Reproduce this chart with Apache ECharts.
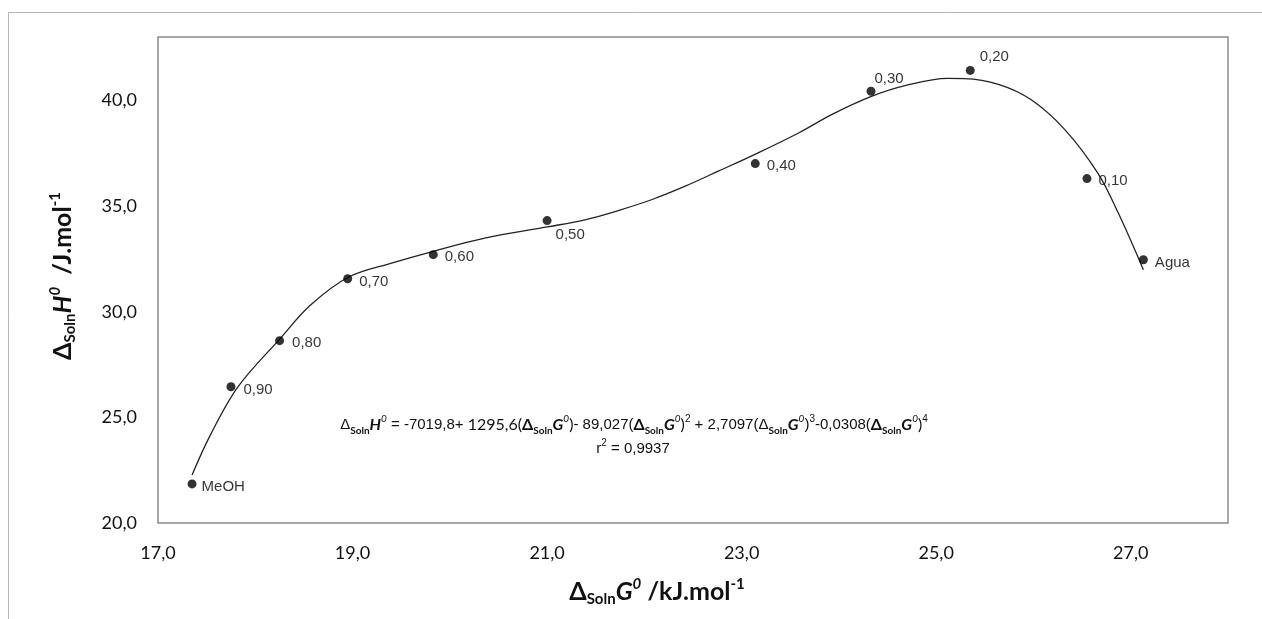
<!DOCTYPE html>
<html>
<head>
<meta charset="utf-8">
<script src="https://cdn.jsdelivr.net/npm/echarts@6/dist/echarts.min.js"></script>
<style>
  html, body { margin: 0; padding: 0; background: #fff; }
  #chart { width: 1262px; height: 619px; }
</style>
</head>
<body>
<div id="chart"></div>
<script>
// Measured mixtures: methanol mole fraction labels, ΔSolnG° (kJ/mol) and ΔSolnH° (J/mol)
const mixLabels = ['MeOH', '0,90', '0,80', '0,70', '0,60', '0,50', '0,40', '0,30', '0,20', '0,10', 'Agua'];
const deltaG = [17.35, 17.75, 18.25, 18.95, 19.83, 21.00, 23.14, 24.33, 25.35, 26.55, 27.13];
const deltaH = [21.85, 26.45, 28.63, 31.56, 32.70, 34.31, 37.01, 40.43, 41.42, 36.30, 32.46];

// Polynomial trend line, sampled along its drawn path
const trendG = [17.35, 17.53, 17.82, 18.26, 18.56, 18.96, 19.41, 19.83, 20.37, 21.00, 21.40, 21.74, 22.08, 22.42, 22.76, 23.17, 23.59, 23.93, 24.34, 24.68, 25.12, 25.29, 25.64, 25.97, 26.32, 26.66, 26.87, 27.13];
const trendH = [22.27, 24.09, 26.43, 28.75, 30.28, 31.64, 32.31, 32.86, 33.49, 34.01, 34.36, 34.80, 35.31, 35.94, 36.65, 37.52, 38.47, 39.34, 40.20, 40.70, 41.04, 41.03, 40.76, 40.05, 38.63, 36.57, 34.69, 31.99];

// Axis ranges and tick spacing
const xMin = 17, xMax = 28, xStep = 2;
const yMin = 20, yMax = 43, yStep = 5;

// Where each point's label sits relative to its marker
const labelOffsets = {
  'MeOH': [1, 3], '0,90': [4, 3], '0,80': [4, 2], '0,70': [3, 3], '0,60': [3, 2],
  '0,50': [0, 14], '0,40': [3, 2], '0,30': [-5, -12], '0,20': [1, -14], '0,10': [3, 2], 'Agua': [3, 3]
};

const comma = v => v.toFixed(1).replace('.', ',');

const points = deltaG.map((g, i) => ({
  value: [g, deltaH[i]],
  name: mixLabels[i],
  label: { offset: labelOffsets[mixLabels[i]] }
}));
const trend = trendG.map((g, i) => [g, trendH[i]]);

const titleFont = 'Lato, "Open Sans", sans-serif';
const axisTitleRich = {
  d: { fontFamily: titleFont, fontWeight: 'bold', fontSize: 25, lineHeight: 30, fill: '#111' },
  s: { fontFamily: titleFont, fontWeight: 'bold', fontSize: 15, lineHeight: 14, verticalAlign: 'bottom', fill: '#111' },
  i: { fontFamily: titleFont, fontWeight: 'bold', fontStyle: 'italic', fontSize: 25, lineHeight: 30, fill: '#111' },
  p: { fontFamily: titleFont, fontWeight: 'bold', fontStyle: 'italic', fontSize: 15, lineHeight: 16, verticalAlign: 'top', fill: '#111' },
  u: { fontFamily: titleFont, fontWeight: 'bold', fontSize: 15, lineHeight: 16, verticalAlign: 'top', fill: '#111' }
};

const eqFont = '"Liberation Sans", Arial, sans-serif';
const eqRich = {
  n: { fontFamily: eqFont, fontSize: 15, lineHeight: 22, fill: '#111' },
  c: { fontFamily: titleFont, fontSize: 16, lineHeight: 22, fill: '#111' },
  d: { fontFamily: eqFont, fontSize: 15, lineHeight: 22, fill: '#111' },
  db: { fontFamily: titleFont, fontWeight: 'bold', fontSize: 16, lineHeight: 22, fill: '#111' },
  s: { fontFamily: titleFont, fontWeight: 'bold', fontSize: 10, lineHeight: 9, verticalAlign: 'bottom', fill: '#111' },
  hi: { fontFamily: titleFont, fontWeight: 'bold', fontStyle: 'italic', fontSize: 16, lineHeight: 22, fill: '#111' },
  sp: { fontFamily: titleFont, fontStyle: 'italic', fontSize: 10, lineHeight: 11, verticalAlign: 'top', fill: '#111' },
  e: { fontFamily: eqFont, fontSize: 10, lineHeight: 11, verticalAlign: 'top', fill: '#111' }
};
const eqText =
  '{d|Δ}{s|Soln}{hi|H}{sp|0}{n| = -7019,8+ }{c|1295,6(}{db|Δ}{s|Soln}{hi|G}{sp|0}{c|)}' +
  '{n|- 89,027(}{db|Δ}{s|Soln}{hi|G}{sp|0}{c|)}{e|2}{n| + 2,7097(}{d|Δ}{s|Soln}{hi|G}{sp|0}{n|)}{e|3}' +
  '{n|-0,0308(}{db|Δ}{s|Soln}{hi|G}{sp|0}{c|)}{e|4}';

const chart = echarts.init(document.getElementById('chart'), null, { renderer: 'canvas' });
chart.setOption({
  animation: false,
  backgroundColor: '#fff',
  grid: {
    left: 158, right: 34, top: 37, bottom: 96,
    show: true, borderColor: '#8a8a8a', borderWidth: 1.5, backgroundColor: 'transparent'
  },
  xAxis: {
    type: 'value', min: xMin, max: xMax, interval: xStep,
    axisLine: { show: false }, axisTick: { show: false }, splitLine: { show: false },
    axisLabel: {
      formatter: comma, showMaxLabel: false, margin: 21,
      fontFamily: titleFont, fontSize: 18, color: '#111'
    }
  },
  yAxis: {
    type: 'value', min: yMin, max: yMax, interval: yStep,
    axisLine: { show: false }, axisTick: { show: false }, splitLine: { show: false },
    axisLabel: {
      formatter: comma, showMaxLabel: false, margin: 21,
      fontFamily: titleFont, fontSize: 18, color: '#111'
    }
  },
  series: [
    {
      type: 'line', data: trend, smooth: 0.35, showSymbol: false, silent: true,
      lineStyle: { color: '#222', width: 1.3 }, z: 2
    },
    {
      type: 'scatter', data: points, symbol: 'circle', symbolSize: 9,
      itemStyle: { color: '#000' }, z: 3,
      label: {
        show: true, position: 'right', distance: 4, formatter: p => p.name,
        fontFamily: eqFont, fontSize: 15, color: '#000'
      }
    }
  ],
  graphic: [
    {
      type: 'rect', silent: true, z: -1,
      shape: { x: 8.5, y: 12.5, width: 1300, height: 700 },
      style: { fill: 'none', stroke: '#b5b5b5', lineWidth: 1 }
    },
    {
      type: 'text', silent: true,
      x: 657, y: 592,
      style: {
        text: '{d|Δ}{s|Soln}{i|G}{p|0}{d| /kJ.mol}{u|-1}',
        rich: axisTitleRich, align: 'center', verticalAlign: 'middle'
      }
    },
    {
      type: 'text', silent: true,
      x: 63, y: 276, rotation: Math.PI / 2,
      style: {
        text: '{d|Δ}{s|Soln}{i|H}{p|0}{d|  /J.mol}{u|-1}',
        rich: axisTitleRich, align: 'center', verticalAlign: 'middle'
      }
    },
    {
      type: 'text', silent: true,
      x: 634, y: 425,
      style: { text: eqText, rich: eqRich, align: 'center', verticalAlign: 'middle' }
    },
    {
      type: 'text', silent: true,
      x: 633, y: 449,
      style: {
        text: '{n|r}{e|2}{n| = 0,9937}',
        rich: eqRich, align: 'center', verticalAlign: 'middle'
      }
    }
  ]
});
</script>
</body>
</html>
